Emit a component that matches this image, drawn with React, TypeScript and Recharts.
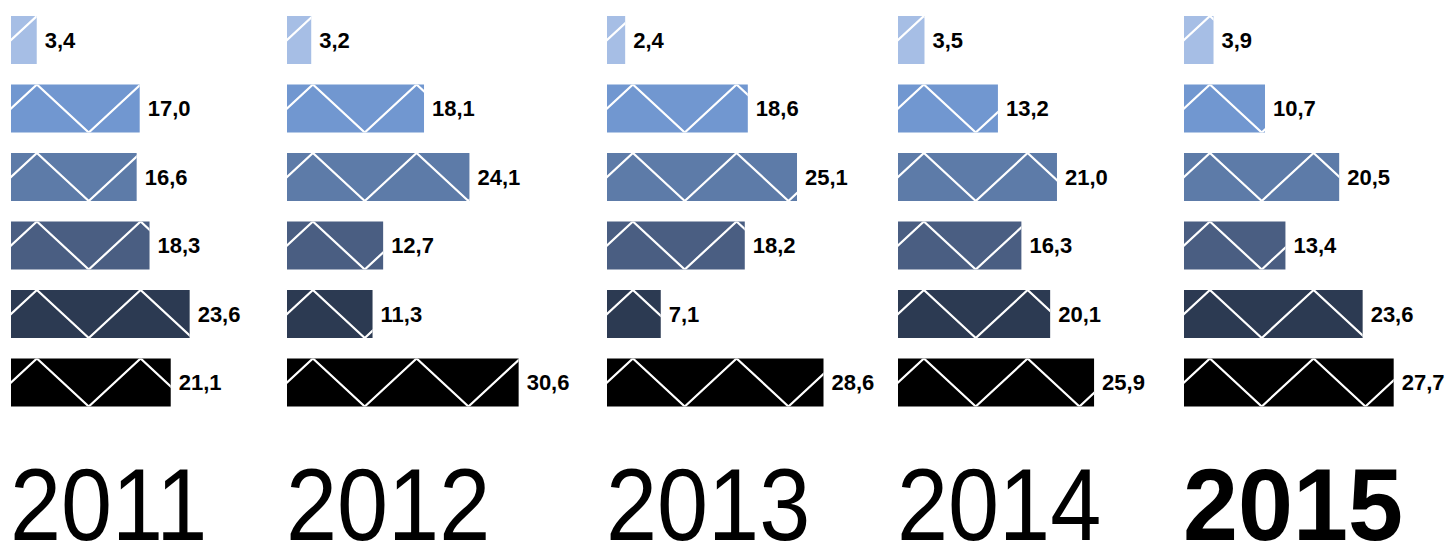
import React from "react";
import { Bar, BarChart, Cell, LabelList, XAxis, YAxis } from "recharts";

const rows = ["r1", "r2", "r3", "r4", "r5", "r6"];
const rowColors = ["#a6bee5", "#7197d0", "#5d7ba8", "#4a5e82", "#2c3a52", "#000000"];

const years = ["2011", "2012", "2013", "2014", "2015"];
const values2011 = [3.4, 17.0, 16.6, 18.3, 23.6, 21.1];
const values2012 = [3.2, 18.1, 24.1, 12.7, 11.3, 30.6];
const values2013 = [2.4, 18.6, 25.1, 18.2, 7.1, 28.6];
const values2014 = [3.5, 13.2, 21.0, 16.3, 20.1, 25.9];
const values2015 = [3.9, 10.7, 20.5, 13.4, 23.6, 27.7];
const highlightYear = "2015";

const yearValues = [values2011, values2012, values2013, values2014, values2015];
const panelLeft = [11, 287, 607, 898, 1184];

const PX_PER_UNIT = 7.57;
const CHART_W = 320;
const MARGIN_RIGHT = 60;
const PLOT_W = CHART_W - MARGIN_RIGHT;
const FONT = "'Liberation Sans', Helvetica, Arial, sans-serif";

const fmt = (v: any) => Number(v).toFixed(1).replace(".", ",");

function ZigzagBar(props: any) {
  const { x, y, width, height, fill, clipId } = props;
  if (!width || width <= 0) return null;
  const half = height * 1.08;
  const pts: string[] = [];
  for (let k = 0; ; k++) {
    const px = x - half / 2 + k * half;
    const py = k % 2 === 1 ? y : y + height;
    pts.push(`${px},${py}`);
    if (px > x + width + half) break;
  }
  return (
    <g>
      <defs>
        <clipPath id={clipId}>
          <rect x={x} y={y} width={width} height={height} />
        </clipPath>
      </defs>
      <rect x={x} y={y} width={width} height={height} fill={fill} />
      <polyline
        points={pts.join(" ")}
        fill="none"
        stroke="#ffffff"
        strokeWidth={2.2}
        clipPath={`url(#${clipId})`}
      />
    </g>
  );
}

function Panel({ year, values, left }: { year: string; values: number[]; left: number }) {
  const data = rows.map((row, i) => ({ row, value: values[i] }));
  return (
    <div style={{ position: "absolute", left, top: 0 }}>
      <BarChart
        width={CHART_W}
        height={430}
        data={data}
        layout="vertical"
        margin={{ top: 6, right: MARGIN_RIGHT, bottom: 13, left: 0 }}
      >
        <XAxis type="number" domain={[0, PLOT_W / PX_PER_UNIT]} hide />
        <YAxis type="category" dataKey="row" hide />
        <Bar
          dataKey="value"
          barSize={48}
          isAnimationActive={false}
          shape={(p: any) => <ZigzagBar {...p} clipId={`clip-${year}-${p.index}`} />}
        >
          {data.map((d, i) => (
            <Cell key={d.row} fill={rowColors[i]} />
          ))}
          <LabelList
            dataKey="value"
            position="right"
            offset={8}
            formatter={fmt}
            fill="#000"
            fontSize={22}
            fontWeight="bold"
            fontFamily={FONT}
          />
        </Bar>
      </BarChart>
    </div>
  );
}

export default function App() {
  return (
    <div
      style={{
        position: "absolute",
        left: 0,
        top: 0,
        width: 1448,
        height: 543,
        background: "#fff",
        overflow: "hidden",
      }}
    >
      {years.map((y, i) => (
        <Panel key={y} year={y} values={yearValues[i]} left={panelLeft[i]} />
      ))}
      <svg
        width={1448}
        height={543}
        style={{ position: "absolute", left: 0, top: 0, pointerEvents: "none" }}
      >
        {years.map((y, i) => {
          const bold = y === highlightYear;
          return (
            <text
              key={y}
              x={0}
              y={0}
              transform={`translate(${panelLeft[i] - 1}, 540) scale(${bold ? 0.97 : 0.9}, 1)`}
              fontFamily={FONT}
              fontSize={102}
              fontWeight={bold ? "bold" : "normal"}
              fill="#000"
            >
              {y}
            </text>
          );
        })}
      </svg>
    </div>
  );
}
